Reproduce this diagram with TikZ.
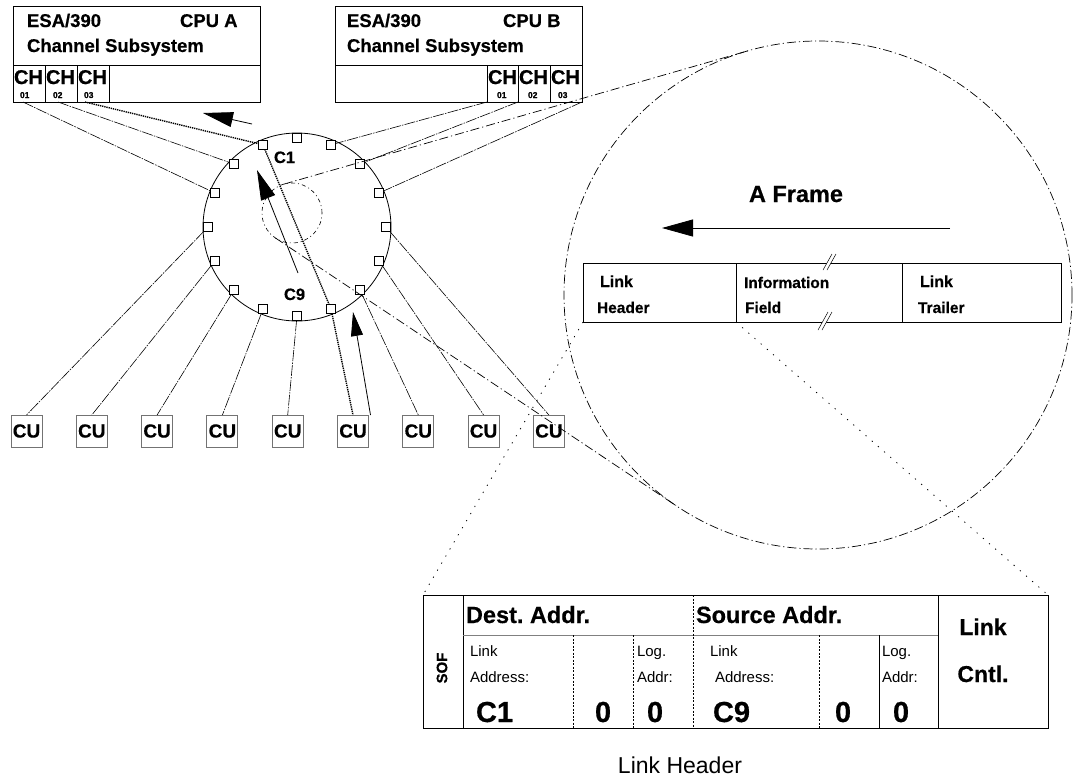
\documentclass[tikz,border=0pt]{standalone}
\usepackage{fontspec}
\setmainfont{Liberation Sans}
\newfontfamily\heavyface{Liberation Sans Bold}[FakeBold=0.5]
\usetikzlibrary{arrows.meta,calc}
\frenchspacing
\begin{document}
\begin{tikzpicture}[x=1pt,y=-1pt,
  every node/.style={inner sep=0pt, outer sep=0pt},
  lbl/.style={anchor=base west},
  hb/.style={font=\heavyface\fontsize{#1}{#1}\selectfont},
  hr/.style={font=\fontsize{#1}{#1}\selectfont},
  frame/.style={draw, line width=0.8pt},
  chbox/.style={draw, line width=0.8pt, minimum width=32pt, minimum height=37pt, anchor=north west},
  cubox/.style={draw=black!55, line width=0.9pt, minimum width=31pt, minimum height=32pt,
                font=\heavyface\fontsize{19}{19}\selectfont},
  port/.style={draw, line width=0.6pt, fill=white, minimum size=9pt},
  link/.style={line width=0.6pt, dash pattern=on 11pt off 1.2pt on 1.5pt off 1.2pt},
  route/.style={line width=1.4pt, dash pattern=on 1.3pt off 0.9pt},
  lens/.style={line width=0.7pt, dash pattern=on 9pt off 3pt on 1.2pt off 3pt},
  lenssmall/.style={line width=0.6pt, dash pattern=on 4pt off 3pt on 1pt off 3pt},
  guide/.style={line width=0.8pt, dash pattern=on 1.2pt off 7pt},
  sep/.style={line width=0.6pt, dash pattern=on 2pt off 1.5pt},
  flow/.style={line width=0.8pt, -{Triangle[length=30pt,width=15pt]}},
]
\useasboundingbox (0,0) rectangle (1079,780);
\fill[white] (0,0) rectangle (1079,780);

% ---------- CPU A ----------
\node[frame, anchor=north west, minimum width=247pt, minimum height=96pt] (cpua) at (13,6) {};
\draw[frame] (13,65) -- (260,65);
\node[chbox] (ch1a) at (13,65) {};
\node[chbox] (ch2a) at (45,65) {};
\node[chbox] (ch3a) at (77,65) {};
\node[lbl,hb=18.5] at (27,27) {ESA/390};
\node[lbl,hb=18.5] at (180,27) {CPU A};
\node[lbl,hb=18.5] at (27,52) {Channel Subsystem};
\node[lbl,hb=20] at (14,84) {CH};
\node[lbl,hb=20] at (46,84) {CH};
\node[lbl,hb=20] at (78,84) {CH};
\node[lbl,hb=8.5] at (20,98) {01};
\node[lbl,hb=8.5] at (53,98) {02};
\node[lbl,hb=8.5] at (84,98) {03};

% ---------- CPU B ----------
\node[frame, anchor=north west, minimum width=247pt, minimum height=96pt] (cpub) at (335,6) {};
\draw[frame] (335,65) -- (582,65);
\node[chbox, minimum width=31pt] (ch1b) at (487,65) {};
\node[chbox] (ch2b) at (518,65) {};
\node[chbox] (ch3b) at (550,65) {};
\node[lbl,hb=18.5] at (347,27) {ESA/390};
\node[lbl,hb=18.5] at (503,27) {CPU B};
\node[lbl,hb=18.5] at (347,52) {Channel Subsystem};
\node[lbl,hb=20] at (488,84) {CH};
\node[lbl,hb=20] at (519,84) {CH};
\node[lbl,hb=20] at (551,84) {CH};
\node[lbl,hb=8.5] at (497,98) {01};
\node[lbl,hb=8.5] at (528,98) {02};
\node[lbl,hb=8.5] at (558,98) {03};

% ---------- switch with 16 ports ----------
\node[draw, circle, line width=0.8pt, minimum size=188pt] (sw) at (297,227) {};
\foreach \i in {0,...,15}
  \node[port] (p\i) at ($(sw.center)+({22.5*\i}:89pt)$) {};
\node[draw, circle, lenssmall, minimum size=60pt] (zc) at (292,213) {};
\node[lbl,hb=16.5] at (274,163) {C1};
\node[lbl,hb=16.5] at (284,300) {C9};

% ---------- control units ----------
\foreach \i in {1,...,9}
  \node[cubox] (cu\i) at ({26.5+65.3*(\i-1)},431) {CU};

% ---------- channel links ----------
\draw[link] ([xshift=10pt]ch1a.south west) -- (p7);
\draw[link] ([xshift=13pt]ch2a.south west) -- (p6);
\draw[route] ([xshift=8pt]ch3a.south west) -- (p5);
\draw[route] (p5) -- (p13);
\draw[route] (p13) -- (cu6.north);
\draw[link] (ch1b.south west) -- (p3);
\draw[link] (ch2b.south west) -- (p2);
\draw[link] (ch3b.south east) -- (p1);

\draw[link] (p8)  -- (cu1.north);
\draw[link] (p9)  -- (cu2.north);
\draw[link] (p10) -- (cu3.north);
\draw[link] (p11) -- (cu4.north);
\draw[link] (p12) -- (cu5.north);
\draw[link] (p14) -- (cu7.north);
\draw[link] (p15) -- (cu8.north);
\draw[link] (p0)  -- (cu9.north);

% ---------- direction arrows ----------
\coordinate (aa1) at (252,124);
\coordinate (aa2) at (203,113);
\draw[flow] (aa1) -- (aa2);
\coordinate (ab1) at (298,273);
\coordinate (ab2) at (257,170);
\draw[flow] (ab1) -- (ab2);
\coordinate (ac2) at (353,312);
\draw[line width=0.8pt, -{Triangle[length=24pt,width=12pt]}] ([xshift=2pt]cu6.north east) -- (ac2);

% ---------- magnified view ----------
\node[draw, circle, lens, minimum size=508pt] (bigc) at (818,295) {};
\draw[lens] (zc.106) -- (bigc.106);
\draw[lens] (zc.236) -- (bigc.236);

\node[lbl,hb=23.5] at (749,202) {A Frame};
\coordinate (fa1) at (950,228);
\coordinate (fa2) at (662,228);
\draw[line width=0.8pt, -{Triangle[length=31pt,width=17pt]}] (fa1) -- (fa2);

\node[frame, anchor=north west, minimum width=153pt, minimum height=59pt] (lh) at (583,263) {};
\node[frame, anchor=north west, minimum width=166pt, minimum height=59pt] (inf) at (736,263) {};
\node[frame, anchor=north west, minimum width=159pt, minimum height=59pt] (lt) at (902,263) {};
\node[lbl,hb=16] at (600,287) {Link};
\node[lbl,hb=15.5] at (597,313) {Header};
\node[lbl,hb=15.5] at (744,288) {Information};
\node[lbl,hb=15.5] at (745,313) {Field};
\node[lbl,hb=16] at (920,287) {Link};
\node[lbl,hb=15.5] at (918,313) {Trailer};

% break marks on the variable-length field
\fill[white] (823,270) -- (832,254) -- (836,254) -- (827,270) -- cycle;
\draw[line width=0.5pt] (823,270) -- (832,254) (827,270) -- (836,254);
\fill[white] (818,330) -- (828,312) -- (832,312) -- (822,330) -- cycle;
\draw[line width=0.5pt] (818,330) -- (828,312) (822,330) -- (832,312);

% ---------- link header layout ----------
\node[frame, anchor=north west, minimum width=625pt, minimum height=133pt] (tbl) at (423,595) {};
\draw[guide] (lh.south west) -- (tbl.north west);
\draw[guide] (lh.south east) -- (tbl.north east);

\draw[frame] (463,595) -- (463,728);
\draw[line width=1pt, black!50] (463,635) -- (938,635);
\draw[sep] (573,635) -- (573,728);
\draw[sep] (633,635) -- (633,728);
\draw[sep] (693,595) -- (693,728);
\draw[sep] (819,635) -- (819,728);
\draw[frame] (879,635) -- (879,728);
\draw[frame] (938,595) -- (938,728);

\node[hb=15] at (442,668) {\rotatebox{90}{SOF}};
\node[lbl,hb=23.5] at (466,623) {Dest. Addr.};
\node[lbl,hb=23.5] at (696,623) {Source Addr.};
\node[lbl,hr=15] at (470,656) {Link};
\node[lbl,hr=15] at (470,682) {Address:};
\node[lbl,hb=29] at (476,722) {C1};
\node[lbl,hb=29] at (595,722) {0};
\node[lbl,hr=15] at (637,656) {Log.};
\node[lbl,hr=15] at (637,682) {Addr:};
\node[lbl,hb=29] at (647,722) {0};
\node[lbl,hr=15] at (710,656) {Link};
\node[lbl,hr=15] at (715,682) {Address:};
\node[lbl,hb=29] at (713,722) {C9};
\node[lbl,hb=29] at (835,722) {0};
\node[lbl,hr=15] at (882,656) {Log.};
\node[lbl,hr=15] at (882,682) {Addr:};
\node[lbl,hb=29] at (893,722) {0};
\node[hb=23, anchor=base] at (983,635) {Link};
\node[hb=23, anchor=base] at (983,682) {Cntl.};
\node[hr=23, anchor=base] at (680,773) {Link Header};
\end{tikzpicture}
\end{document}
